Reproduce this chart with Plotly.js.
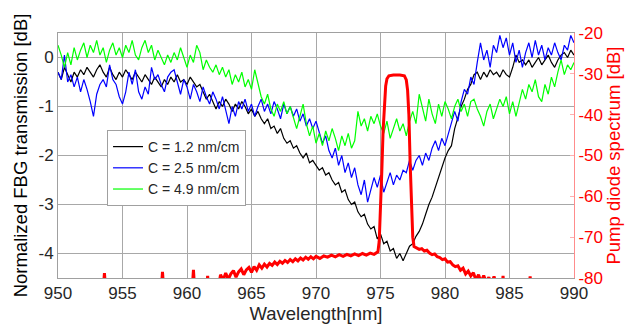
<!DOCTYPE html>
<html>
<head>
<meta charset="utf-8">
<script src="https://cdn.plot.ly/plotly-3.0.1.min.js"></script>
<style>
  html, body { margin: 0; padding: 0; background: #fff; }
  #chart { width: 639px; height: 330px; }
</style>
</head>
<body>
<div id="chart"></div>
<script>
// Sampling grid of the FBG transmission traces (nm)
const wlStart = 950, wlStep = 0.25, wlCount = 161;
const wavelengths = [];
for (let i = 0; i < wlCount; i++) wavelengths.push(wlStart + i * wlStep);

const seriesNames = ["C = 1.2 nm/cm", "C = 2.5 nm/cm", "C = 4.9 nm/cm"];

// C = 1.2 nm/cm (black)
const transC12 = [
 -0.30,-0.45,-0.20,-0.35,-0.50,-0.30,-0.40,-0.25,-0.35,-0.20,-0.30,-0.40,-0.25,-0.15,-0.30,-0.40,
 -0.20,-0.35,-0.45,-0.30,-0.40,-0.25,-0.35,-0.45,-0.30,-0.40,-0.50,-0.35,-0.45,-0.55,-0.40,-0.50,
 -0.60,-0.45,-0.55,-0.40,-0.50,-0.35,-0.50,-0.45,-0.55,-0.40,-0.50,-0.60,-0.55,-0.70,-0.85,-0.75,
 -0.90,-1.05,-0.90,-1.00,-0.85,-0.95,-1.10,-0.95,-1.05,-0.90,-1.00,-1.15,-1.05,-1.20,-1.10,-1.25,
 -1.35,-1.25,-1.45,-1.40,-1.55,-1.45,-1.65,-1.75,-1.70,-1.85,-1.80,-1.95,-2.05,-1.95,-2.15,-2.10,
 -2.20,-2.30,-2.25,-2.40,-2.35,-2.50,-2.60,-2.55,-2.75,-2.70,-2.90,-3.00,-2.95,-3.15,-3.25,-3.20,
 -3.40,-3.50,-3.45,-3.70,-3.60,-3.80,-3.75,-3.95,-3.90,-4.10,-4.00,-4.15,-4.00,-3.85,-3.80,-3.65,
 -3.55,-3.40,-3.20,-3.00,-2.85,-2.65,-2.45,-2.25,-2.05,-1.90,-1.80,-1.45,-1.20,-1.00,-0.85,-0.65,
 -0.55,-0.35,-0.30,-0.45,-0.30,-0.40,-0.25,-0.35,-0.30,-0.40,-0.25,-0.35,-0.40,-0.20, 0.05,-0.10,
 -0.05,-0.15,-0.05,-0.20,-0.10, 0.00,-0.15,-0.05, 0.05,-0.10,-0.20,-0.05, 0.05, 0.10, 0.00, 0.15,
  0.05
];

// C = 2.5 nm/cm (blue)
const transC25 = [
 -0.30,-0.45, 0.05,-0.50,-0.35,-0.60,-0.40,-0.70,-0.45,-0.65,-0.90,-1.20,-0.75,-0.55,-0.45,-0.60,
 -0.15,-0.45,-0.55,-0.80,-0.95,-0.70,-0.30,-0.55,-0.25,-0.70,-0.85,-0.60,-0.75,-0.20,-0.45,-0.35,
 -0.55,-0.70,-0.40,-0.30,-0.25,-0.50,-0.75,-0.45,-0.60,-0.85,-0.55,-0.70,-0.90,-0.60,-0.80,-0.95,
 -0.70,-0.85,-1.05,-0.80,-1.10,-1.35,-1.00,-1.20,-0.90,-1.05,-0.85,-1.10,-0.95,-1.20,-1.00,-0.85,
 -1.10,-0.95,-1.15,-0.90,-1.05,-1.25,-0.95,-1.15,-1.00,-1.20,-1.05,-1.30,-1.15,-1.40,-1.25,-1.45,
 -1.30,-1.55,-1.75,-1.60,-1.90,-2.05,-1.85,-2.20,-2.00,-2.35,-2.15,-2.45,-2.25,-2.60,-2.80,-2.50,
 -2.95,-2.70,-2.45,-2.65,-2.40,-2.75,-2.55,-2.35,-2.60,-2.40,-2.50,-2.30,-2.35,-2.10,-2.30,-2.10,
 -2.00,-2.20,-1.95,-2.10,-1.85,-1.70,-1.90,-1.65,-1.80,-1.55,-1.35,-1.10,-1.30,-0.90,-0.65,-0.75,
 -0.40,-0.55,-0.10, 0.30,-0.05, 0.15,-0.20, 0.25, 0.10, 0.45, 0.20, 0.40, 0.05, 0.30,-0.10, 0.15,
 -0.20, 0.10, 0.30, 0.00, 0.35, 0.05, 0.25,-0.05, 0.20, 0.05, 0.30, 0.10,-0.05, 0.25, 0.15, 0.45,
  0.30
];

// C = 4.9 nm/cm (green)
const transC49 = [
  0.25, 0.05,-0.20, 0.10,-0.15, 0.20,-0.05, 0.15, 0.30, 0.00, 0.25, 0.10, 0.35, 0.05, 0.20,-0.10,
  0.15, 0.30, 0.05, 0.20, 0.00, 0.25, 0.10, 0.35, 0.05,-0.05, 0.20, 0.35, 0.10, 0.25,-0.05, 0.15,
  0.00,-0.15, 0.05,-0.10, 0.10,-0.05, 0.20, 0.00,-0.20, 0.05,-0.10, 0.25, 0.10,-0.25,-0.05,-0.20,
 -0.30,-0.15,-0.35,-0.20,-0.40,-0.25,-0.55,-0.35,-0.50,-0.30,-0.60,-0.45,-0.65,-0.25,-0.55,-0.80,
 -0.95,-0.75,-1.05,-1.20,-0.95,-1.10,-0.90,-1.15,-1.00,-1.25,-1.45,-1.20,-0.95,-1.35,-1.60,-1.40,
 -1.75,-1.55,-1.80,-1.50,-1.70,-1.45,-1.65,-1.90,-1.60,-1.80,-1.55,-1.85,-1.70,-1.10,-1.40,-1.25,
 -1.50,-1.20,-1.35,-1.15,-1.40,-1.55,-1.30,-1.65,-1.45,-1.25,-1.50,-1.35,-1.60,-1.30,-1.10,-1.35,
 -0.75,-1.05,-1.30,-0.85,-1.15,-1.35,-0.95,-1.20,-0.90,-1.05,-1.25,-1.00,-0.85,-1.10,-0.95,-1.20,
 -0.90,-0.85,-1.05,-1.20,-1.40,-1.10,-0.95,-1.25,-1.05,-0.85,-1.00,-0.80,-1.15,-0.90,-1.20,-0.95,
 -0.65,-0.85,-0.55,-0.70,-0.45,-0.80,-0.90,-0.55,-0.75,-0.40,-0.60,-0.30,-0.05,-0.35,-0.15,-0.25,
 -0.10
];

// Pump diode spectrum (red, right axis)
const pumpWl = [
 950.0,953.5,953.6,953.7,958.0,958.1,958.2,960.4,960.5,960.6,961.5,961.6,961.7,962.4,962.6,962.8,
 963.0,963.2,963.4,963.6,963.8,964.0,964.2,964.4,964.6,964.8,965.0,965.2,965.4,965.6,965.8,966.0,
 966.2,966.4,966.6,966.8,967.0,967.2,967.4,967.6,967.8,968.0,968.2,968.4,968.6,968.8,969.0,969.2,
 969.4,969.6,969.8,970.0,970.3,970.6,970.9,971.2,971.5,971.8,972.1,972.4,972.7,973.0,973.3,973.6,
 973.9,974.2,974.5,974.8,974.9,975.0,975.1,975.2,975.3,975.4,975.5,975.65,976.0,976.5,976.85,977.0,
 977.1,977.2,977.3,977.4,977.5,977.6,977.8,978.0,978.2,978.4,978.6,978.8,979.0,979.2,979.4,979.6,
 979.8,980.0,980.2,980.4,980.6,980.8,981.0,981.2,981.4,981.6,981.8,982.0,982.2,982.4,982.6,982.8,
 983.0,983.2,983.4,983.6,983.8,984.0,984.4,984.5,984.6,986.5,986.6,986.7,990.0
];
const pumpDb = [
 -83,-83,-78.8,-83,-83,-78.5,-83,-83,-78.0,-83,-83,-79.5,-83,-83,-79.2,-80.5,
 -78.8,-80.3,-79.0,-78.2,-79.8,-78.5,-77.8,-79.2,-78.0,-77.4,-78.6,-77.2,-78.1,-76.8,-77.6,-76.6,
 -77.3,-76.4,-76.9,-76.1,-76.7,-75.9,-76.4,-75.7,-76.2,-75.5,-76.0,-75.3,-75.8,-75.1,-75.6,-74.9,
 -75.4,-74.8,-75.3,-74.7,-75.2,-74.6,-74.9,-74.4,-74.8,-74.3,-74.7,-74.2,-74.6,-74.1,-74.5,-74.0,
 -74.4,-73.9,-74.2,-73.6,-71,-64,-54,-44,-37,-33,-31.2,-30.5,-30.3,-30.3,-30.5,-31.5,
 -34,-40,-52,-63,-70,-72.3,-72.6,-73.0,-72.8,-73.4,-73.2,-73.9,-74.3,-74.1,-74.8,-75.0,
 -75.5,-75.3,-76.1,-76.0,-76.8,-77.2,-77.0,-78.1,-77.6,-79.0,-78.3,-79.5,-78.7,-80.5,-79.2,-81,
 -79.4,-81,-79.8,-81.5,-79.6,-82,-83,-79.5,-83,-83,-79.6,-83,-83
];

const xTicks = [950, 955, 960, 965, 970, 975, 980, 985, 990];
const yTicks = [-4, -3, -2, -1, 0];
const y2Ticks = [-80, -70, -60, -50, -40, -30, -20];

const FONT = "Liberation Sans, Arial, Helvetica, sans-serif";
const TXT = "#262626";

const traces = [
  { x: wavelengths, y: transC12, name: seriesNames[0], type: "scatter", mode: "lines",
    line: { color: "#000000", width: 1.2 } },
  { x: wavelengths, y: transC25, name: seriesNames[1], type: "scatter", mode: "lines",
    line: { color: "#0000ff", width: 1.2 } },
  { x: wavelengths, y: transC49, name: seriesNames[2], type: "scatter", mode: "lines",
    line: { color: "#00ff00", width: 1.2 } },
  { x: pumpWl, y: pumpDb, name: "Pump", type: "scatter", mode: "lines", yaxis: "y2",
    showlegend: false, line: { color: "#ff0000", width: 3 } }
];

const layout = {
  width: 639, height: 330,
  margin: { l: 58, r: 65, t: 33, b: 52 },
  paper_bgcolor: "#ffffff", plot_bgcolor: "#ffffff",
  font: { family: FONT, size: 17, color: TXT },
  showlegend: true,
  legend: {
    x: 0.095, y: 0.604, xanchor: "left", yanchor: "top",
    bgcolor: "#ffffff", bordercolor: "#a0a0a0", borderwidth: 1,
    font: { family: FONT, size: 14, color: TXT },
    itemwidth: 30, tracegroupgap: 0
  },
  xaxis: {
    range: [950, 990], tickvals: xTicks, ticktext: xTicks.map(String),
    showgrid: true, gridcolor: "#a8a8a8", gridwidth: 1,
    showline: true, linecolor: "#a0a0a0", linewidth: 1, mirror: true,
    ticks: "", zeroline: false,
    tickfont: { family: FONT, size: 17, color: TXT },
    title: { text: "Wavelength[nm]", font: { family: FONT, size: 18.5, color: TXT }, standoff: 3 }
  },
  yaxis: {
    range: [-4.5, 0.5], tickvals: yTicks, ticktext: yTicks.map(String),
    showgrid: true, gridcolor: "#a8a8a8", gridwidth: 1,
    showline: true, linecolor: "#a0a0a0", linewidth: 1,
    ticks: "", zeroline: false,
    tickfont: { family: FONT, size: 17, color: TXT },
    title: { text: "Normalized FBG transmission [dB]", font: { family: FONT, size: 18.5, color: "#000000" }, standoff: 5 }
  },
  yaxis2: {
    overlaying: "y", side: "right",
    range: [-80, -20], tickvals: y2Ticks, ticktext: y2Ticks.map(String),
    showgrid: false, zeroline: false,
    showline: true, linecolor: "#ff8c8c", linewidth: 1,
    ticks: "inside", ticklen: 4, tickcolor: "#ffb0b0",
    tickfont: { family: FONT, size: 17, color: "#ff0000" },
    title: { text: "Pump diode spectrum [dB]", font: { family: FONT, size: 18.5, color: "#ff0000" }, standoff: 5 }
  }
};

Plotly.newPlot("chart", traces, layout, { staticPlot: true, displayModeBar: false });
</script>
</body>
</html>
